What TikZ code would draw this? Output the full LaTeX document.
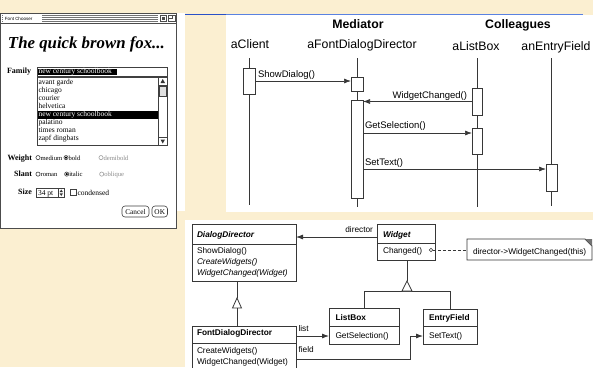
\documentclass[tikz,border=0pt]{standalone}
\usepackage{fontspec}
\setmainfont{Liberation Serif}
\setsansfont{Liberation Sans}
\newfontfamily\dlgfont{Liberation Serif}
\usetikzlibrary{arrows.meta,calc}
\definecolor{parch}{RGB}{251,239,209}
\definecolor{bluedark}{RGB}{40,80,200}
\definecolor{bluelight}{RGB}{90,130,225}
\definecolor{lg}{RGB}{55,55,55}
\begin{document}
\begin{tikzpicture}[x=1pt,y=-1pt,
  every node/.style={inner sep=0pt,outer sep=0pt},
  hd/.style={font=\sffamily\bfseries\fontsize{12.3}{14}\selectfont,anchor=base},
  obj/.style={font=\sffamily\fontsize{12.3}{14}\selectfont,anchor=base},
  ml/.style={font=\sffamily\fontsize{9.5}{11}\selectfont},
  life/.style={draw=lg,line width=0.7pt},
  act/.style={draw=lg,fill=white,line width=0.8pt,minimum width=12pt},
  msg/.style={draw=lg,line width=0.7pt,-{Latex[length=7pt,width=5pt]}},
  cls/.style={draw=lg,fill=white,line width=0.8pt,anchor=north west},
  sep/.style={draw=lg,line width=0.8pt},
  ct/.style={font=\sffamily\fontsize{8.3}{10}\selectfont,anchor=base west},
  ctb/.style={anchor=base west,font=\sffamily\bfseries\fontsize{8.3}{10}\selectfont},
  cti/.style={anchor=base west,font=\sffamily\itshape\fontsize{8.3}{10}\selectfont},
  ctbi/.style={anchor=base west,font=\sffamily\bfseries\itshape\fontsize{8.3}{10}\selectfont},
  assoc/.style={draw=lg,line width=0.8pt,-{Latex[length=7pt,width=5pt]}},
  dl/.style={font=\dlgfont\fontsize{7.5}{8}\selectfont,anchor=base west},
  dlab/.style={font=\bfseries\fontsize{8}{9}\selectfont,anchor=base east},
  dopt/.style={font=\dlgfont\fontsize{6.6}{8}\selectfont,anchor=base west},
  wline/.style={draw=black!75,line width=0.6pt},
  radio/.style={draw=black!80,line width=0.55pt},
]
\useasboundingbox (0,0) rectangle (593,367);
\fill[parch] (0,0) rectangle (593,367);

% ---------------- Font chooser window ----------------
\fill[white] (176,13) rectangle (184.5,211);
\draw[black!70,line width=1.2pt,fill=white] (0.6,13.6) rectangle (176.5,228.6);
\foreach \yy in {15,17,19,21} \draw[black!55,line width=0.6pt] (2,\yy) -- (158,\yy);
\fill[white] (3,14) rectangle (42,22.5);
\node[font=\sffamily\fontsize{4.5}{5}\selectfont,anchor=base west] (wtitle) at (5,20) {Font Chooser};
\draw[black!70,line width=0.5pt] (160,15) rectangle (166,21);
\fill[black!70] (161.5,16.5) rectangle (164.5,19.5);
\draw[black!70,line width=0.5pt] (168,15) rectangle (175,21);
\draw[black!70,line width=0.5pt] (168,15) rectangle (172,18.5);
\draw[black!70,line width=0.8pt] (1,23) -- (176,23);

\node[font=\fontsize{16.8}{18}\selectfont\bfseries\itshape,anchor=base west] (sample) at (8,48) {The quick brown fox...};

\node[dlab] (lfam) at (31,73) {Family};
\draw[wline,fill=white] (37,67.7) rectangle (167,76);
\fill[black] (38,68.6) rectangle (117,75.2);
\node[dl,text=white] (famval) at (38.5,73.8) {new century schoolbook};

\draw[wline,fill=white] (37,77.3) rectangle (167,145);
\fill[black] (37.5,110.8) rectangle (158.5,118.6);
\foreach \t [count=\i from 0] in {avant garde,chicago,courier,helvetica,new century schoolbook,palatino,times roman,zapf dingbats}{
  \ifnum\i=4
    \node[dl,text=white] (item\i) at (38.5,84+\i*8.1) {\t};
  \else
    \node[dl] (item\i) at (38.5,84+\i*8.1) {\t};
  \fi
}
\draw[wline] (158.5,77.3) -- (158.5,145);
\draw[wline] (158.5,85) -- (167,85);
\draw[wline] (158.5,137.5) -- (167,137.5);
\fill[black!80] (162.75,79) -- (165,83) -- (160.5,83) -- cycle;
\fill[black!80] (162.75,143.5) -- (165,139.5) -- (160.5,139.5) -- cycle;
\draw[wline,fill=black!12] (159.5,86) rectangle (166,96);

\node[dlab] (lw) at (32,160) {Weight};
\draw[radio] (38,157.6) circle (2.1);
\node[dopt] (w1) at (40.6,160) {medium};
\draw[radio] (66,157.6) circle (2.1); \fill (66,157.6) circle (1.2);
\node[dopt] (w2) at (68.6,160) {bold};
\draw[radio,draw=black!40] (101,157.6) circle (2.1);
\node[dopt,text=black!45] (w3) at (103.6,160) {demibold};

\node[dlab] (ls) at (32,176.5) {Slant};
\draw[radio] (38,174.1) circle (2.1);
\node[dopt] (s1) at (40.6,176.5) {roman};
\draw[radio] (66.7,174.1) circle (2.1); \fill (66.7,174.1) circle (1.2);
\node[dopt] (s2) at (69.3,176.5) {italic};
\draw[radio,draw=black!40] (101.7,174.1) circle (2.1);
\node[dopt,text=black!45] (s3) at (104.3,176.5) {oblique};

\node[dlab] (lsz) at (32,194) {Size};
\draw[wline,fill=white] (36.5,188.5) rectangle (58,197);
\node[dl] (szv) at (38,195) {34 pt};
\draw[wline,fill=white] (58,188.5) rectangle (64.5,197);
\fill[black!80] (61.25,189.5) -- (63,192.2) -- (59.5,192.2) -- cycle;
\fill[black!80] (61.25,196) -- (63,193.3) -- (59.5,193.3) -- cycle;
\draw[wline,fill=white] (70,189.5) rectangle (76,195.5);
\node[dl] (cond) at (77.5,195) {condensed};

\draw[wline,rounded corners=3pt,fill=white] (122,206) rectangle (149,217);
\node[font=\fontsize{7.3}{8}\selectfont] (bcancel) at (135.5,211.8) {Cancel};
\draw[wline,rounded corners=3pt,fill=white] (152,206) rectangle (167.5,217);
\node[font=\fontsize{7.3}{8}\selectfont] (bok) at (159.75,211.8) {OK};

% ---------------- Sequence diagram ----------------
\fill[white] (226,15) rectangle (593,212);
\draw[bluedark,line width=1.6pt] (185,14.6) -- (226,14.6);
\draw[bluelight,line width=0.9pt] (226,14.4) -- (583,14.4);
\node[hd] (hmed) at (358,28.5) {Mediator};
\node[hd] (hcol) at (518,28.5) {Colleagues};
\node[obj] (oc) at (250,48) {aClient};
\node[obj] (of) at (362,48) {aFontDialogDirector};
\node[obj] (ol) at (476,50) {aListBox};
\node[obj] (oe) at (556,50) {anEntryField};

\coordinate (cT) at (249,58);   \coordinate (cB) at (249,205);
\coordinate (fT) at (357,58);   \coordinate (fB) at (357,207);
\coordinate (lT) at (477,58);   \coordinate (lB) at (477,207);
\coordinate (eT) at (551.5,58); \coordinate (eB) at (551.5,206);
\draw[life] (cT) -- (cB);
\draw[life] (fT) -- (fB);
\draw[life] (lT) -- (lB);
\draw[life] (eT) -- (eB);

\node[act,minimum height=26pt] (ca) at (249,81) {};
\node[act,minimum height=14pt] (fa1) at (357,84) {};
\node[act,minimum height=98pt] (fa2) at (357,149) {};
\node[act,minimum width=10pt,minimum height=27pt] (la1) at (477,101.5) {};
\node[act,minimum width=10pt,minimum height=26pt] (la2) at (477,141) {};
\node[act,minimum width=11pt,minimum height=27pt] (ea) at (551.5,177.5) {};

\draw[msg] (ca.east) -- (ca.east -| fa1.west);
\node[ml,anchor=base west] (m1) at (258,77) {ShowDialog()};
\draw[msg] (la1.west) -- (la1.west -| fa2.east);
\node[ml,anchor=base east] (m2) at (467,98) {WidgetChanged()};
\draw[msg] ([yshift=8pt]la2.west -| fa2.east) -- ([yshift=8pt]la2.west);
\node[ml,anchor=base west] (m3) at (365,128.5) {GetSelection()};
\draw[msg] ([yshift=8.5pt]ea.west -| fa2.east) -- ([yshift=8.5pt]ea.west);
\node[ml,anchor=base west] (m4) at (365,165.5) {SetText()};

% ---------------- Class diagram ----------------
\fill[white] (185,220) rectangle (593,367);

\node[cls,minimum width=104pt,minimum height=57pt] (dd) at (192,224) {};
\draw[sep] ([yshift=-20pt]dd.north west) -- ([yshift=-20pt]dd.north east);
\node[ctbi] (ddn) at ([xshift=5pt,yshift=-13pt]dd.north west) {DialogDirector};
\node[ct] (dd1) at ([xshift=5pt,yshift=-29pt]dd.north west) {ShowDialog()};
\node[cti] (dd2) at ([xshift=5pt,yshift=-40pt]dd.north west) {CreateWidgets()};
\node[cti] (dd3) at ([xshift=5pt,yshift=-51pt]dd.north west) {WidgetChanged(Widget)};

\node[cls,minimum width=58pt,minimum height=36pt] (wg) at (377,224) {};
\draw[sep] ([yshift=-19pt]wg.north west) -- ([yshift=-19pt]wg.north east);
\node[ctbi] (wgn) at ([xshift=6pt,yshift=-13pt]wg.north west) {Widget};
\node[ct] (wg1) at ([xshift=6pt,yshift=-29pt]wg.north west) {Changed()};
\node[circle,draw=lg,fill=white,line width=0.6pt,minimum size=3.6pt] (dot) at (431,250) {};

\node[anchor=north west,minimum width=125pt,minimum height=21pt] (note) at (467,239) {};
\draw[sep,fill=white] (note.south west) -- (note.north west) -- ([xshift=-7pt]note.north east) -- ([yshift=-7pt]note.north east) -- (note.south east) -- cycle;
\fill[black!55] ([xshift=-7pt]note.north east) -- (note.north east) -- ([yshift=-7pt]note.north east) -- cycle;
\node[ct] (notet) at (473,254) {director->WidgetChanged(this)};
\draw[lg,line width=0.7pt,dash pattern=on 3pt off 2pt] (dot.east) -- (dot.east -| note.west);

\node[cls,minimum width=104pt,minimum height=42pt] (fdd) at (192,326) {};
\draw[sep] ([yshift=-17.3pt]fdd.north west) -- ([yshift=-17.3pt]fdd.north east);
\node[ctb] (fddn) at ([xshift=5pt,yshift=-9pt]fdd.north west) {FontDialogDirector};
\node[ct] (fdd1) at ([xshift=5pt,yshift=-27pt]fdd.north west) {CreateWidgets()};
\node[ct] (fdd2) at ([xshift=5pt,yshift=-38pt]fdd.north west) {WidgetChanged(Widget)};

\node[cls,minimum width=70pt,minimum height=36pt] (lb) at (329,308.5) {};
\draw[sep] ([yshift=-17.5pt]lb.north west) -- ([yshift=-17.5pt]lb.north east);
\node[ctb] (lbn) at ([xshift=6.5pt,yshift=-12pt]lb.north west) {ListBox};
\node[ct] (lb1) at ([xshift=6.5pt,yshift=-29.5pt]lb.north west) {GetSelection()};

\node[cls,minimum width=54pt,minimum height=35.5pt] (ef) at (423,309) {};
\draw[sep] ([yshift=-17.5pt]ef.north west) -- ([yshift=-17.5pt]ef.north east);
\node[ctb] (efn) at ([xshift=6pt,yshift=-11.5pt]ef.north west) {EntryField};
\node[ct] (ef1) at ([xshift=6pt,yshift=-29pt]ef.north west) {SetText()};

% generalisation DialogDirector <- FontDialogDirector
\coordinate (ta) at (237,298);
\draw[sep] (dd.south -| ta) -- (ta);
\draw[sep,fill=white] (ta) -- ++(4.5,10) -- ++(-9,0) -- cycle;
\draw[sep] ($(ta)+(0,10)$) -- (fdd.north -| ta);

% generalisation Widget <- ListBox, EntryField
\coordinate (tb) at (407,281);
\coordinate (bar) at (407,291);
\draw[sep] (wg.south -| tb) -- (tb);
\draw[sep] (lb.north) |- (bar);
\draw[sep] (ef.north) |- (bar);
\draw[sep,fill=white] (tb) -- ++(5,10) -- ++(-10,0) -- cycle;

% associations
\draw[assoc] ([yshift=5pt]wg.west) -- ([yshift=5pt]wg.west -| dd.east);
\node[ct,anchor=base east] (ldir) at (373,232.5) {director};
\draw[assoc] ([yshift=11pt]fdd.east) -- ([yshift=11pt]fdd.east -| lb.west);
\node[ct] (llist) at (298.5,331) {list};
\coordinate (fj) at (410,336);
\draw[assoc] ([yshift=-12pt]fdd.east) -| (fj) -- (fj -| ef.west);
\node[ct] (lfield) at (298.5,352) {field};
\end{tikzpicture}
\end{document}
